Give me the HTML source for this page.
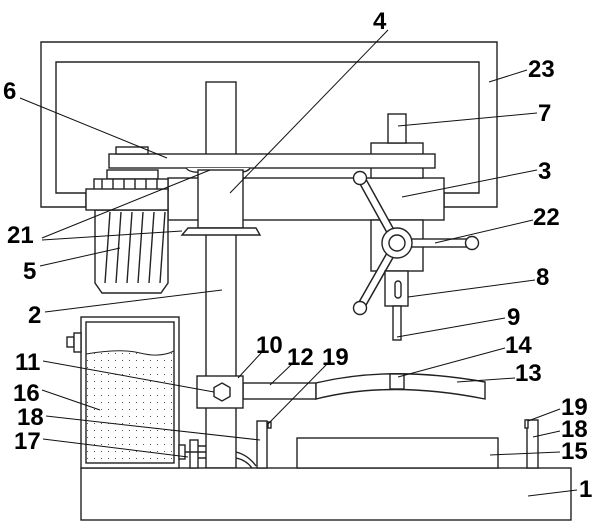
<!DOCTYPE html>
<html><head><meta charset="utf-8"><style>
html,body{margin:0;padding:0;background:#fff;}
svg{display:block;}
text{font-family:"Liberation Sans",Arial,sans-serif;font-weight:bold;font-size:24px;fill:#000;}
</style></head><body>
<svg width="600" height="524" viewBox="0 0 600 524" xmlns="http://www.w3.org/2000/svg">
<defs>
<pattern id="dots" width="7" height="7" patternUnits="userSpaceOnUse"><rect x="3" y="3" width="1" height="1" fill="#555"/></pattern>
</defs>
<g fill="#fff" stroke="#222" stroke-width="1.4">
<path d="M41 42H497V207H444V193H479V62H56V193H86V207H41Z"/>
<rect x="206" y="82" width="30" height="386"/>
<rect x="168" y="178" width="276" height="42"/>
<rect x="371" y="143" width="52" height="35"/>
<rect x="388" y="114" width="18" height="29"/>
<rect x="371" y="220" width="52" height="51"/>
<rect x="109" y="154" width="326" height="14"/>
<rect x="116" y="147" width="32" height="7"/>
<path d="M186 168 Q190 173 200 172 H240 Q248 172 250 168"/>
<rect x="198" y="170" width="45" height="58"/>
<path d="M188 228H256L260 235H182Z"/>
<rect x="107" y="170" width="51" height="9"/>
<rect x="94" y="179" width="74" height="12"/>
<path d="M102 179V191M113 179V191M124 179V191M135 179V191M146 179V191M157 179V191" fill="none"/>
<path d="M95 210H168V283L161 293H102L95 283Z"/>
<rect x="86" y="189" width="82" height="21"/>
<path d="M105 283L110 212M116 283L121 212M127 283L132 212M138 283L143 212M149 283L154 212M160 283L165 212" fill="none"/>
<path d="M361 178L397 243" stroke-width="9" stroke="#222"/>
<path d="M361 178L397 243" stroke-width="6" stroke="#fff"/>
<path d="M360 308L397 243" stroke-width="9" stroke="#222"/>
<path d="M360 308L397 243" stroke-width="6" stroke="#fff"/>
<rect x="405" y="239" width="62" height="8"/>
<circle cx="360" cy="178" r="6.5"/>
<circle cx="360" cy="308" r="6.5"/>
<circle cx="472" cy="243" r="6.5"/>
<circle cx="397" cy="243" r="15"/>
<circle cx="397" cy="243" r="8"/>
<rect x="385" y="271" width="23" height="35"/>
<rect x="395" y="281" width="6" height="17" rx="3"/>
<rect x="393" y="306" width="8" height="34"/>
<rect x="243" y="383" width="73" height="16"/>
<path d="M316 383Q390 365 485 382V399Q390 380 316 399Z"/>
<rect x="390" y="374" width="14" height="15"/>
<rect x="197" y="376" width="46" height="32"/>
<polygon points="222,383 230,387.5 230,396.5 222,401 214,396.5 214,387.5"/>
<rect x="81" y="468" width="490" height="52"/>
<rect x="297" y="438" width="201" height="30"/>
<rect x="527" y="420" width="11" height="48"/>
<rect x="525" y="420" width="3" height="8"/>
<rect x="257" y="421" width="10" height="47"/>
<rect x="268" y="422" width="3" height="6"/>
<path d="M236 452Q248 455 256 466M236 458Q246 460 252 468" fill="none"/>
<rect x="81" y="317" width="98" height="151"/>
<rect x="86" y="322" width="88" height="141"/>
<path d="M86 354Q120 348 140 353T174 351V463H86Z" fill="url(#dots)" stroke="none"/>
<path d="M86 354Q120 348 140 353T174 351" fill="none" stroke-width="1"/>
<rect x="67" y="337" width="7" height="10"/>
<rect x="74" y="333" width="7" height="19"/>
<rect x="179" y="445" width="6" height="14"/>
<rect x="190" y="440" width="8" height="28"/>
<path d="M185 452H206M198 446H206M198 458H206" fill="none"/>
</g>
<g stroke="#111" stroke-width="1" fill="none">
<path d="M388 30L230 193"/>
<path d="M527 70L489 82"/>
<path d="M20 98L167 158"/>
<path d="M537 113L398 126"/>
<path d="M537 170L402 197"/>
<path d="M42 238L210 170M42 240L182 231"/>
<path d="M533 220L435 243"/>
<path d="M40 266L120 248"/>
<path d="M45 312L222 290"/>
<path d="M535 280L408 297"/>
<path d="M505 318L397 337"/>
<path d="M262 352L238 378"/>
<path d="M293 363L270 385"/>
<path d="M328 363L268 424"/>
<path d="M505 348L398 377"/>
<path d="M515 378L457 382"/>
<path d="M43 361L214 392"/>
<path d="M42 390L100 410"/>
<path d="M46 416L260 440"/>
<path d="M43 439L188 457"/>
<path d="M560 409L528 421"/>
<path d="M560 431L533 437"/>
<path d="M560 452L490 455"/>
<path d="M577 490L528 496"/>
</g>
<g>
<text x="373" y="29">4</text>
<text x="528" y="77">23</text>
<text x="3" y="99">6</text>
<text x="538" y="121">7</text>
<text x="538" y="179">3</text>
<text x="7" y="243">21</text>
<text x="533" y="225">22</text>
<text x="23" y="279">5</text>
<text x="28" y="323">2</text>
<text x="536" y="285">8</text>
<text x="507" y="325">9</text>
<text x="256" y="353">10</text>
<text x="287" y="365">12</text>
<text x="322" y="365">19</text>
<text x="505" y="353">14</text>
<text x="515" y="381">13</text>
<text x="15" y="370">11</text>
<text x="13" y="401">16</text>
<text x="17" y="425">18</text>
<text x="14" y="449">17</text>
<text x="561" y="415">19</text>
<text x="561" y="437">18</text>
<text x="561" y="459">15</text>
<text x="579" y="497">1</text>
</g>
</svg>
</body></html>
